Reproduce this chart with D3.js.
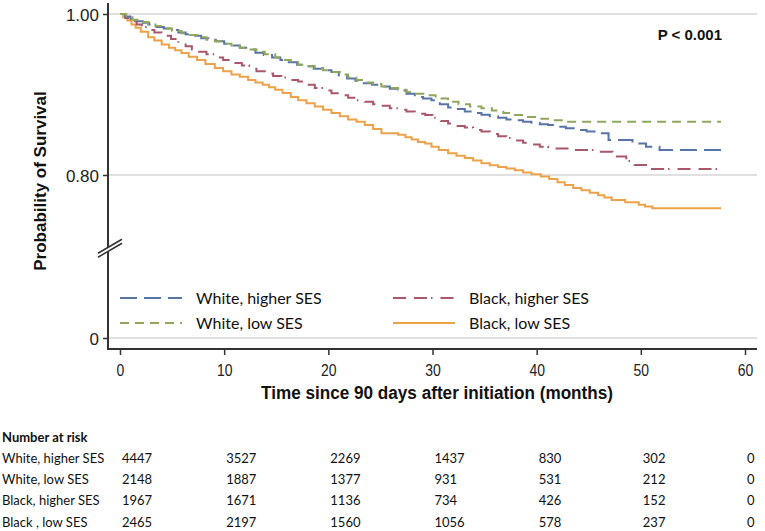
<!DOCTYPE html>
<html><head><meta charset="utf-8">
<script src="https://cdn.jsdelivr.net/npm/d3@7"></script>
<style>
html,body{margin:0;padding:0;background:#fff;}
svg{display:block;}
</style></head>
<body>
<svg id="chart" width="765" height="531"></svg>
<script>
// ---------- DATA ----------
const seriesNames = ["White, higher SES", "White, low SES", "Black, higher SES", "Black, low SES"];
const riskLabels = ["White, higher SES", "White, low SES", "Black, higher SES", "Black , low SES"];
const riskTimes = [0, 10, 20, 30, 40, 50, 60];
const riskWhiteHigh = [4447, 3527, 2269, 1437, 830, 302, 0];
const riskWhiteLow = [2148, 1887, 1377, 931, 531, 212, 0];
const riskBlackHigh = [1967, 1671, 1136, 734, 426, 152, 0];
const riskBlackLow = [2465, 2197, 1560, 1056, 578, 237, 0];
const xTicks = [0, 10, 20, 30, 40, 50, 60];
const yTicks = [0, 0.80, 1.00];
const yTickLabels = ["0", "0.80", "1.00"];

// survival curves: [month, survival]
const whiteHigh = [[0,1.000],[0.5,0.997],[1,0.994],[1.6,0.991],[2.2,0.989],[2.8,0.987],[3.5,0.984],[4.2,0.982],[4.9,0.980],[5.6,0.977],[6.3,0.975],[7.0,0.973],[7.8,0.970],[8.5,0.968],[9.2,0.966],[10.0,0.963],[10.8,0.961],[11.5,0.958],[12.3,0.956],[13.0,0.952],[13.8,0.949],[14.6,0.946],[15.4,0.943],[16.2,0.940],[17.0,0.937],[17.8,0.935],[18.6,0.932],[19.5,0.930],[20.3,0.928],[21.0,0.924],[21.8,0.920],[22.6,0.917],[23.4,0.914],[24.2,0.912],[25.0,0.910],[25.9,0.907],[26.7,0.905],[27.5,0.901],[28.3,0.897],[29.1,0.895],[29.9,0.893],[30.7,0.888],[31.5,0.884],[32.3,0.882],[33.1,0.879],[33.9,0.877],[34.7,0.875],[35.5,0.873],[36.3,0.871],[37.1,0.869],[37.9,0.868],[38.7,0.866],[39.5,0.865],[40.3,0.863],[41.1,0.862],[42.0,0.860],[42.8,0.858],[43.7,0.856],[44.8,0.854],[45.9,0.852],[46.9,0.8435],[49.2,0.839],[50.5,0.835],[51.8,0.831],[57.7,0.831]];
const whiteLow = [[0,1.000],[0.6,0.996],[1.2,0.993],[1.9,0.990],[2.7,0.987],[3.4,0.985],[4.2,0.982],[5.0,0.979],[5.9,0.976],[6.7,0.974],[7.5,0.971],[8.3,0.968],[9.1,0.966],[9.9,0.963],[10.7,0.961],[11.5,0.958],[12.3,0.956],[13.1,0.953],[13.9,0.950],[14.9,0.946],[15.6,0.943],[16.4,0.940],[17.1,0.937],[17.9,0.935],[18.7,0.933],[19.5,0.930],[20.3,0.928],[21.1,0.925],[21.9,0.921],[22.7,0.918],[23.5,0.915],[24.3,0.913],[25.1,0.910],[25.9,0.908],[26.7,0.906],[27.5,0.903],[28.3,0.901],[29.3,0.899],[30.3,0.895],[31.5,0.891],[32.5,0.888],[33.6,0.885],[34.7,0.883],[35.7,0.880],[36.8,0.877],[37.9,0.8745],[39.0,0.872],[40.0,0.870],[41.1,0.868],[42.7,0.866],[57.7,0.866]];
const blackHigh = [[0,1.000],[0.5,0.995],[1.0,0.991],[1.6,0.987],[2.1,0.984],[2.7,0.980],[3.3,0.977],[4.0,0.973],[4.9,0.969],[5.6,0.964],[6.3,0.960],[6.9,0.956],[7.6,0.953],[8.3,0.950],[9.1,0.946],[9.9,0.943],[10.8,0.939],[11.7,0.936],[12.4,0.932],[13.1,0.929],[13.9,0.926],[14.7,0.923],[15.5,0.921],[16.3,0.918],[17.1,0.916],[17.9,0.912],[18.7,0.908],[19.5,0.905],[20.3,0.9015],[21.1,0.899],[21.9,0.896],[22.7,0.893],[23.5,0.891],[24.3,0.888],[25.1,0.886],[25.9,0.883],[26.7,0.881],[27.5,0.879],[28.3,0.876],[29.3,0.8745],[30.0,0.871],[30.8,0.867],[31.5,0.864],[32.3,0.861],[33.1,0.859],[33.9,0.856],[34.7,0.854],[35.5,0.851],[36.3,0.848],[37.1,0.846],[37.9,0.843],[38.7,0.840],[39.5,0.838],[40.3,0.835],[41.1,0.833],[43.3,0.831],[45.9,0.829],[47.3,0.823],[48.6,0.8174],[49.4,0.8124],[50.7,0.8075],[57.7,0.8075]];
const blackLow = [[0,1.000],[0.3,0.996],[0.7,0.992],[1.1,0.987],[1.5,0.983],[2.0,0.978],[2.7,0.971],[3.3,0.967],[4.0,0.962],[4.7,0.958],[5.3,0.955],[5.9,0.9516],[6.6,0.947],[7.4,0.943],[8.2,0.938],[9.1,0.933],[9.9,0.929],[10.7,0.925],[11.5,0.922],[12.3,0.918],[13.0,0.915],[13.7,0.912],[14.3,0.909],[14.9,0.906],[15.6,0.902],[16.4,0.897],[17.1,0.893],[17.9,0.889],[18.7,0.885],[19.5,0.881],[20.3,0.877],[21.1,0.873],[21.9,0.869],[22.7,0.866],[23.5,0.862],[24.3,0.857],[25.1,0.852],[26.7,0.850],[27.4,0.847],[28.0,0.844],[28.6,0.841],[29.3,0.839],[29.9,0.835],[30.6,0.831],[31.5,0.827],[32.3,0.824],[33.1,0.821],[33.9,0.818],[34.7,0.8145],[35.5,0.812],[36.3,0.810],[37.1,0.808],[37.9,0.806],[38.7,0.803],[39.5,0.801],[40.4,0.798],[41.2,0.795],[42.0,0.791],[42.7,0.7876],[43.5,0.784],[44.3,0.781],[45.1,0.778],[45.9,0.775],[46.5,0.772],[47.2,0.769],[48.5,0.766],[49.8,0.763],[50.4,0.761],[51.1,0.7586],[57.7,0.7586]];

// ---------- STYLE ----------
const colors = ["#5874a6", "#8fa65c", "#a9576a", "#eda24a"];
const dashes = ["17,7", "9,6", "13,8,13,4,1.5,8", null];
const sans = "'Liberation Sans',Arial,sans-serif";
const cal = "Lato,'Open Sans',sans-serif";

const svg = d3.select("#chart");
const x = d3.scaleLinear().domain([0, 60]).range([120, 745]);
const y = d3.scaleLinear().domain([0, 0.7, 1]).range([338, 255.5, 14]);
const axisX = 108, axisBottom = 349, plotRight = 757;

// condense text horizontally (narrow-font look)
function condense(sel, f) {
  sel.each(function () {
    const w = this.getComputedTextLength();
    d3.select(this).attr("textLength", w * f).attr("lengthAdjust", "spacingAndGlyphs");
  });
}

// gridlines
svg.append("g").selectAll("line").data(yTicks).join("line")
  .attr("x1", axisX).attr("x2", plotRight)
  .attr("y1", d => y(d)).attr("y2", d => y(d))
  .attr("stroke", "#d6d6d6").attr("stroke-width", 1.5);

// y axis
const yAxis = d3.axisLeft(y).tickValues(yTicks).tickSize(5)
  .tickFormat((d, i) => yTickLabels[i]);
const gy = svg.append("g").attr("transform", `translate(${axisX},0)`).call(yAxis);
gy.select(".domain").remove();
gy.selectAll(".tick line").attr("stroke", "#333").attr("stroke-width", 1.5);
gy.selectAll(".tick text").attr("font-family", sans).attr("font-size", 17)
  .attr("fill", "#222").attr("x", -9).attr("dy", "0.36em");
svg.append("line").attr("x1", axisX).attr("x2", axisX).attr("y1", 3).attr("y2", axisBottom)
  .attr("stroke", "#333").attr("stroke-width", 2);

// x axis
const xAxis = d3.axisBottom(x).tickValues(xTicks).tickSize(6).tickFormat(d3.format("d"));
const gx = svg.append("g").attr("transform", `translate(0,${axisBottom})`).call(xAxis);
gx.select(".domain").remove();
gx.selectAll(".tick line").attr("stroke", "#333").attr("stroke-width", 1.5);
gx.selectAll(".tick text").attr("font-family", sans).attr("font-size", 17)
  .attr("fill", "#222").attr("y", 15).attr("dy", "0.71em").call(condense, 0.82);
svg.append("line").attr("x1", axisX - 1).attr("x2", plotRight).attr("y1", axisBottom).attr("y2", axisBottom)
  .attr("stroke", "#333").attr("stroke-width", 2);

// axis break marks
const by = y(0.709);
svg.append("polygon")
  .attr("points", `${axisX-10},${by+9} ${axisX+14},${by-5} ${axisX+14},${by-9} ${axisX-10},${by+5}`)
  .attr("fill", "#fff");
[0, 4].forEach(o => {
  svg.append("line").attr("x1", axisX - 10).attr("y1", by + 9 - o)
    .attr("x2", axisX + 14).attr("y2", by - 5 - o)
    .attr("stroke", "#333").attr("stroke-width", 1.5);
});

// axis titles
svg.append("text").attr("transform", "translate(46,181) rotate(-90)")
  .attr("text-anchor", "middle").attr("font-family", sans).attr("font-weight", "bold")
  .attr("font-size", 17).attr("fill", "#111").text("Probability of Survival");
svg.append("text").attr("x", 437).attr("y", 399)
  .attr("text-anchor", "middle").attr("font-family", sans).attr("font-weight", "bold")
  .attr("font-size", 18).attr("fill", "#111")
  .text("Time since 90 days after initiation (months)")
  .attr("textLength", 352).attr("lengthAdjust", "spacingAndGlyphs");

// p value
svg.append("text").attr("x", 722).attr("y", 40).attr("text-anchor", "end")
  .attr("font-family", sans).attr("font-weight", "bold").attr("font-size", 15)
  .attr("fill", "#111").text("P < 0.001");

// curves
const curves = [whiteHigh, whiteLow, blackHigh, blackLow];
const line = d3.line().x(d => x(d[0])).y(d => y(d[1])).curve(d3.curveStepAfter);
const drawOrder = [3, 2, 0, 1];
drawOrder.forEach(i => {
  svg.append("path").datum(curves[i]).attr("d", line)
    .attr("fill", "none").attr("stroke", colors[i]).attr("stroke-width", 2)
    .attr("stroke-dasharray", dashes[i]);
});

// legend
const legPos = [[120, 298], [120, 323], [393, 298], [393, 323]];
seriesNames.forEach((n, i) => {
  const [lx, ly] = legPos[i];
  svg.append("line").attr("x1", lx).attr("x2", lx + 62).attr("y1", ly).attr("y2", ly)
    .attr("stroke", colors[i]).attr("stroke-width", 2).attr("stroke-dasharray", dashes[i]);
  svg.append("text").attr("x", lx + 76).attr("y", ly).attr("dy", "0.35em")
    .attr("font-family", cal).attr("font-size", 16).attr("fill", "#111").text(n);
});

// number at risk table
const riskRows = [riskWhiteHigh, riskWhiteLow, riskBlackHigh, riskBlackLow];
const headY = 437, rowStep = 21.3;
svg.append("text").attr("x", 2).attr("y", headY).attr("dy", "0.35em")
  .attr("font-family", cal).attr("font-weight", "bold").attr("font-size", 13)
  .attr("fill", "#111").text("Number at risk");
riskRows.forEach((row, r) => {
  const ry = headY + rowStep * (r + 1);
  svg.append("text").attr("x", 2).attr("y", ry).attr("dy", "0.35em")
    .attr("font-family", cal).attr("font-size", 13).attr("fill", "#111").text(riskLabels[r]);
  svg.append("g").selectAll("text").data(row).join("text")
    .attr("x", (d, k) => x(riskTimes[k]) + 2).attr("y", ry).attr("dy", "0.35em")
    .attr("font-family", cal).attr("font-size", 13).attr("fill", "#111").text(d => d);
});
</script>
</body></html>
